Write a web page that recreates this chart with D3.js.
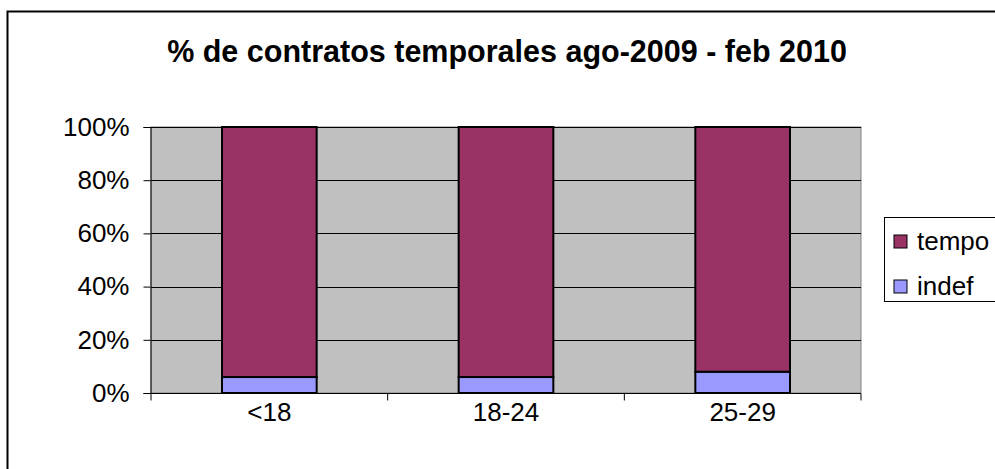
<!DOCTYPE html>
<html lang="es">
<head>
    <meta charset="UTF-8" />
    <title>% de contratos temporales</title>
    <script src="https://d3js.org/d3.v7.min.js"></script>
    <style>
        body {
            margin: 0;
            background: #fff;
            font-family: "Liberation Sans", Arial, sans-serif;
        }
        svg text {
            fill: #000;
        }
    </style>
</head>
<body>
    <svg id="chart" width="995" height="469"></svg>

    <script>
        // data
        const categories = ["<18", "18-24", "25-29"];
        const indef = [0.06, 0.06, 0.08];
        const tempo = [0.94, 0.94, 0.92];
        const seriesNames = ["tempo", "indef"];
        const seriesColors = ["#993366", "#9999FF"];
        const yTicks = [0, 0.2, 0.4, 0.6, 0.8, 1.0];
        const title = "% de contratos temporales ago-2009 - feb 2010";

        const svg = d3.select("#chart");

        // outer chart frame
        svg.append("rect")
            .attr("x", 7.5).attr("y", 11.5)
            .attr("width", 1010).attr("height", 480)
            .attr("fill", "#fff")
            .attr("stroke", "#000")
            .attr("stroke-width", 2);

        const plot = { left: 151, top: 127, right: 861, bottom: 393 };

        const x = d3.scaleBand()
            .domain(categories)
            .range([plot.left, plot.right])
            .paddingInner(0.6)
            .paddingOuter(0.3);

        const xOuter = d3.scaleBand()
            .domain(categories)
            .range([plot.left, plot.right]);

        const y = d3.scaleLinear()
            .domain([0, 1])
            .range([plot.bottom, plot.top]);

        // plot area background
        svg.append("rect")
            .attr("x", plot.left).attr("y", plot.top)
            .attr("width", plot.right - plot.left)
            .attr("height", plot.bottom - plot.top)
            .attr("fill", "#C0C0C0")
            .attr("stroke", "#808080")
            .attr("stroke-width", 1);

        // gridlines
        svg.append("g")
            .selectAll("line")
            .data(yTicks.filter(d => d > 0))
            .enter()
            .append("line")
            .attr("x1", plot.left).attr("x2", plot.right)
            .attr("y1", d => Math.round(y(d)) + 0.5)
            .attr("y2", d => Math.round(y(d)) + 0.5)
            .attr("stroke", "#000")
            .attr("stroke-width", 1);

        // stacked bars
        const stacked = categories.map((c, i) => ({ cat: c, indef: indef[i], tempo: tempo[i] }));
        const stack = d3.stack().keys(["indef", "tempo"])(stacked);
        const colorOf = d3.scaleOrdinal().domain(seriesNames).range(seriesColors);

        svg.append("g")
            .selectAll("g")
            .data(stack)
            .enter()
            .append("g")
            .attr("fill", d => colorOf(d.key))
            .selectAll("rect")
            .data(d => d)
            .enter()
            .append("rect")
            .attr("x", d => x(d.data.cat))
            .attr("width", x.bandwidth())
            .attr("y", d => y(d[1]))
            .attr("height", d => y(d[0]) - y(d[1]))
            .attr("stroke", "#000")
            .attr("stroke-width", 2);

        // y axis
        const yAxis = svg.append("g")
            .attr("transform", `translate(${plot.left - 0.5},0)`)
            .call(d3.axisLeft(y).tickValues(yTicks).tickFormat(d3.format(".0%")).tickSize(7).tickPadding(14));
        yAxis.selectAll("text")
            .attr("font-family", "Liberation Sans, Arial, sans-serif")
            .attr("font-size", 26)
            .attr("fill", "#000");
        yAxis.select(".domain").attr("stroke", "#000");
        yAxis.selectAll(".tick line").attr("stroke", "#000");

        // x axis: ticks at category boundaries
        const xAxis = svg.append("g")
            .attr("transform", `translate(0,${plot.bottom + 0.5})`);
        xAxis.append("line")
            .attr("x1", plot.left - 7).attr("x2", plot.right)
            .attr("stroke", "#000");
        xAxis.selectAll(".bound")
            .data(categories.concat(["end"]))
            .enter()
            .append("line")
            .attr("class", "bound")
            .attr("x1", (d, i) => i < categories.length ? xOuter(d) : plot.right)
            .attr("x2", (d, i) => i < categories.length ? xOuter(d) : plot.right)
            .attr("y1", 0).attr("y2", 7)
            .attr("stroke", "#000");
        xAxis.selectAll("text")
            .data(categories)
            .enter()
            .append("text")
            .attr("x", d => xOuter(d) + xOuter.bandwidth() / 2)
            .attr("y", 27)
            .attr("text-anchor", "middle")
            .attr("font-size", 26)
            .text(d => d);

        // title
        svg.append("text")
            .attr("x", 507)
            .attr("y", 62)
            .attr("text-anchor", "middle")
            .attr("font-size", 30.5)
            .attr("font-weight", "bold")
            .text(title);

        // legend
        const legend = svg.append("g").attr("transform", "translate(884,217)");
        legend.append("rect")
            .attr("x", 0.5).attr("y", 0.5)
            .attr("width", 130).attr("height", 84)
            .attr("fill", "#fff")
            .attr("stroke", "#000");
        const item = legend.selectAll(".item")
            .data(seriesNames)
            .enter()
            .append("g")
            .attr("class", "item")
            .attr("transform", (d, i) => `translate(10,${24 + i * 45})`);
        item.append("rect")
            .attr("x", 0).attr("y", -6)
            .attr("width", 13).attr("height", 13)
            .attr("fill", d => colorOf(d))
            .attr("stroke", "#000");
        item.append("text")
            .attr("x", 23)
            .attr("y", 9)
            .attr("font-size", 26)
            .text(d => d);
    </script>
</body>
</html>
